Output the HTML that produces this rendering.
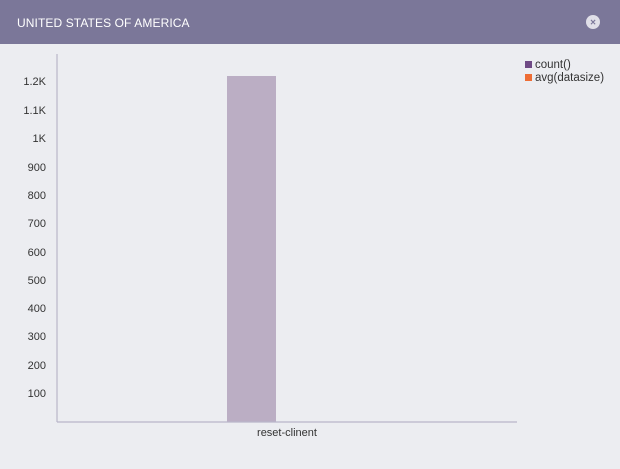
<!DOCTYPE html>
<html><head><meta charset="utf-8"><style>
html,body{margin:0;padding:0;width:620px;height:469px;background:#ecedf1;overflow:hidden;font-family:"Liberation Sans",sans-serif;}
</style></head><body>
<svg width="620" height="469" xmlns="http://www.w3.org/2000/svg" font-family="Liberation Sans, sans-serif">
<rect x="0" y="0" width="620" height="469" fill="#ecedf1"/>
<rect x="0" y="0" width="620" height="44" fill="#7b7799"/>
<text x="17" y="27" font-size="12" fill="#ffffff" letter-spacing="0.1">UNITED STATES OF AMERICA</text>
<circle cx="593" cy="22" r="7" fill="#e0dfe8"/>
<text x="593" y="25.5" font-size="10" font-weight="bold" fill="#7b7799" text-anchor="middle">×</text>
<rect x="227" y="76" width="49" height="346" fill="#bbaec4"/>
<line x1="57" y1="54" x2="57" y2="422" stroke="#b9b6c9" stroke-width="1.2"/>
<line x1="57" y1="422" x2="517" y2="422" stroke="#b9b6c9" stroke-width="1.2"/>
<g font-size="11" fill="#333" text-anchor="end">
<text x="46" y="397">100</text>
<text x="46" y="369">200</text>
<text x="46" y="340">300</text>
<text x="46" y="312">400</text>
<text x="46" y="284">500</text>
<text x="46" y="256">600</text>
<text x="46" y="227">700</text>
<text x="46" y="199">800</text>
<text x="46" y="171">900</text>
<text x="46" y="142">1K</text>
<text x="46" y="114">1.1K</text>
<text x="46" y="85">1.2K</text>
</g>
<text x="287" y="436" font-size="11" fill="#333" text-anchor="middle">reset-clinent</text>
<rect x="525" y="61" width="7" height="7" fill="#6f4a85"/>
<text x="535" y="68" font-size="11.5" fill="#333">count()</text>
<rect x="525" y="74" width="7" height="7" fill="#ee6d35"/>
<text x="535" y="81" font-size="11.5" fill="#333">avg(datasize)</text>
</svg>
</body></html>
